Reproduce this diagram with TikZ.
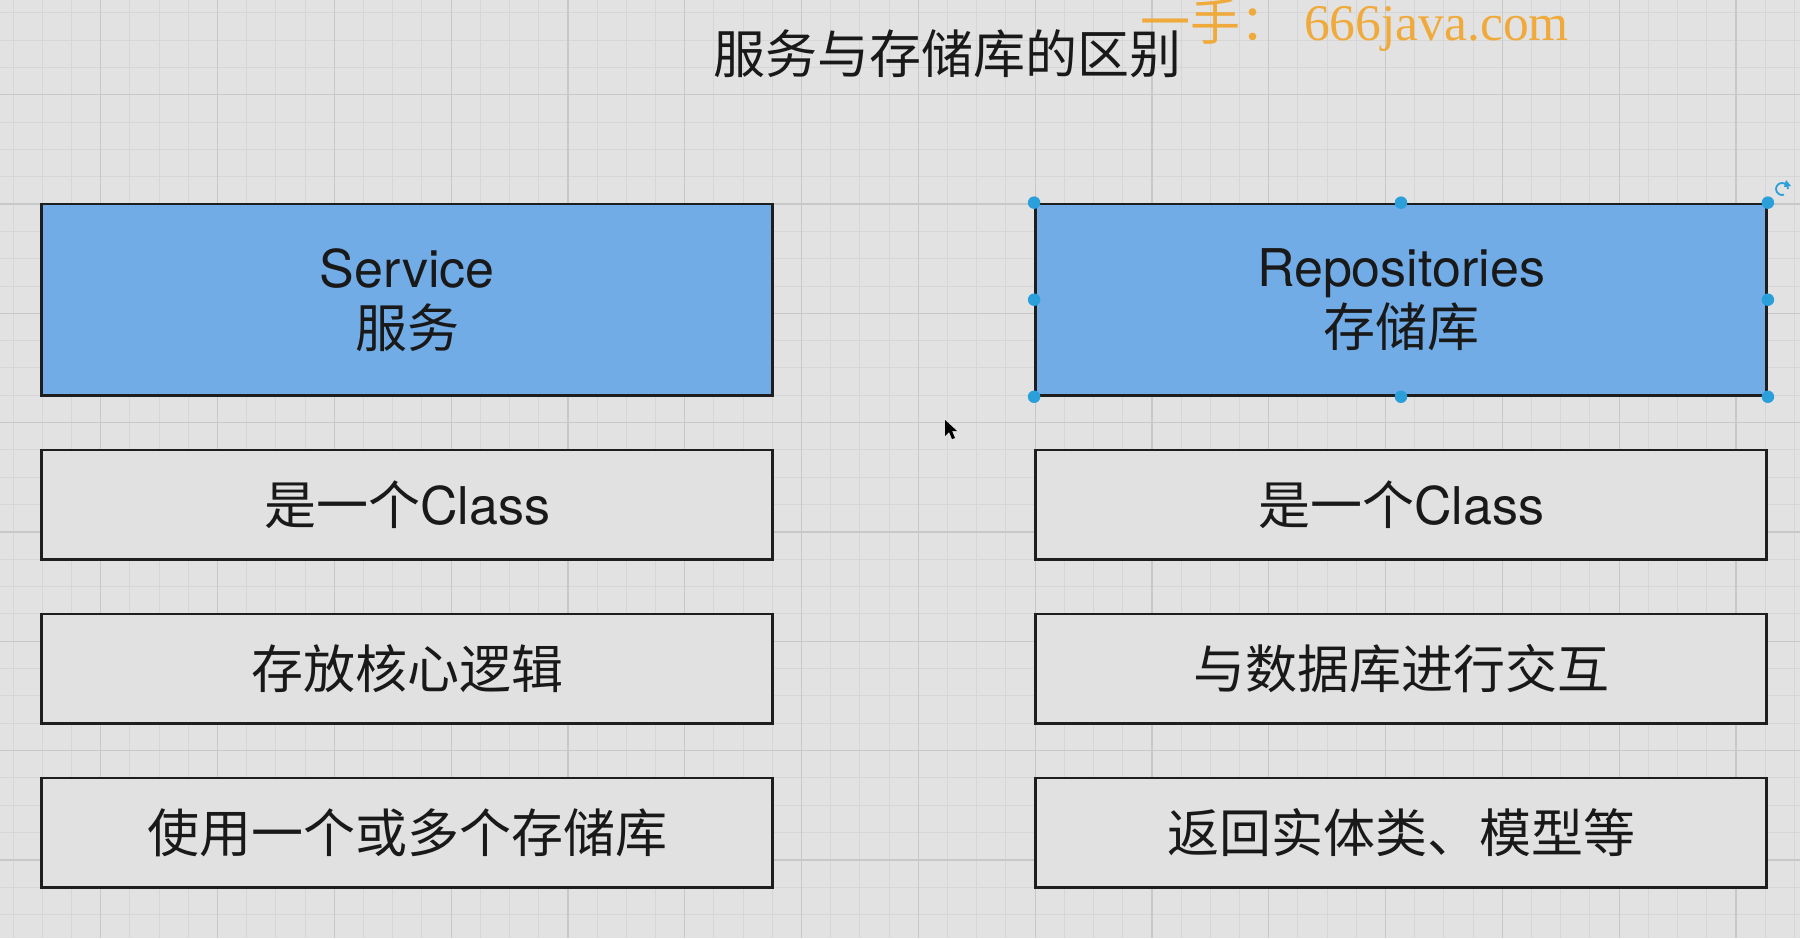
\documentclass[tikz,border=0pt]{standalone}
\usepackage{fontspec}
\setmainfont{TeX Gyre Heros}
\newfontfamily\cjk{Noto Sans CJK SC}
\newfontfamily\wmserif{Liberation Serif}
\usetikzlibrary{arrows.meta}
\definecolor{bg}{HTML}{E2E2E2}
\definecolor{gridminor}{HTML}{D6D6D6}
\definecolor{gridmajor}{HTML}{C8C8C8}
\definecolor{boxblue}{HTML}{72ACE7}
\definecolor{boxgray}{HTML}{E1E1E1}
\definecolor{boxline}{HTML}{1E1E1E}
\definecolor{handle}{HTML}{2B9FD9}
\definecolor{wm}{HTML}{F2A52B}
\begin{document}
\begin{tikzpicture}[x=1pt,y=-1pt,
  box/.style={draw=boxline, line width=2.8pt, fill=boxgray, minimum width=731pt,
    minimum height=109.3pt, inner sep=0pt, font=\fontsize{52}{60}\selectfont, text=black!90},
  bluebox/.style={box, fill=boxblue, minimum height=191.3pt, align=center},
  hdl/.style={circle, fill=handle, inner sep=0pt, minimum size=12.5pt},
  minorline/.style={gridminor, line width=1pt},
  majorline/.style={gridmajor, line width=1.2pt}]
\useasboundingbox (0,0) rectangle (1800,938);
\fill[bg] (0,0) rectangle (1800,938);
% grid
\foreach \i in {0,...,61} \draw[minorline] ({13.1+29.2*\i},0) -- ({13.1+29.2*\i},938);
\foreach \i in {0,...,33} \draw[minorline] (0,{12.7+27.33*\i}) -- (1800,{12.7+27.33*\i});
\foreach \i in {0,...,14} \draw[majorline] ({100.7+116.8*\i},0) -- ({100.7+116.8*\i},938);
\foreach \i in {0,...,7} \draw[majorline] (0,{94.7+109.33*\i}) -- (1800,{94.7+109.33*\i});
% title and watermark
\node[font=\cjk\fontsize{52}{60}\selectfont, text=black!90] (title) at (947,54) {服务与存储库的区别};
\node[anchor=west, text=wm, opacity=0.9, font=\fontsize{50}{56}\selectfont, inner sep=0pt] (wmark) at (1140,25) {{\cjk 一手：}\hspace{14pt}{\wmserif\fontsize{51.5}{56}\selectfont 666java.com}};
% boxes
\node[bluebox] (svc) at (407,299.7) {Service\\{\cjk 服务}};
\node[bluebox] (repo) at (1401,299.7) {Repositories\\{\cjk 存储库}};
\node[box] (s1) at (407,504.7) {{\cjk 是一个}Class};
\node[box] (s2) at (407,668.7) {\cjk 存放核心逻辑};
\node[box] (s3) at (407,832.7) {\cjk 使用一个或多个存储库};
\node[box] (r1) at (1401,504.7) {{\cjk 是一个}Class};
\node[box] (r2) at (1401,668.7) {\cjk 与数据库进行交互};
\node[box] (r3) at (1401,832.7) {\cjk 返回实体类、模型等};
% selection handles
\foreach \a/\n in {north west/nw, north/n, north east/ne, west/w, east/e, south west/sw, south/s, south east/se}
  \node[hdl] (h\n) at (repo.\a) {};
% rotate icon
\draw[handle, line width=1.8pt] (1788,189) arc[start angle=0, end angle=-290, radius=6];
\fill[handle] (1786,180) -- (1791,186) -- (1784,187) -- cycle;
% mouse cursor
\fill[black] (945,420) -- (945,436) -- (949,432) -- (952,439) -- (955,438) -- (952,431) -- (957,431) -- cycle;
\end{tikzpicture}
\end{document}
